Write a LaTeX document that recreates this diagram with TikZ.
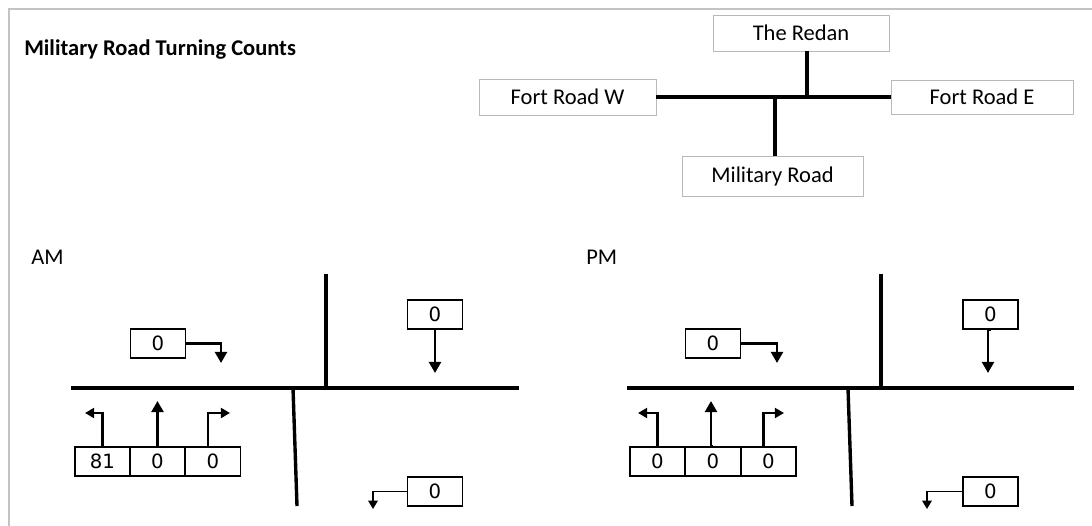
\documentclass[tikz,border=0pt]{standalone}
\usepackage{fontspec}
\setmainfont{Carlito}
\newfontfamily\numfont{DejaVu Sans}
\usetikzlibrary{arrows.meta}
\definecolor{framegray}{HTML}{C3C3C3}
\definecolor{keygray}{HTML}{B9B9B9}

\begin{document}
\begin{tikzpicture}[x=0.025cm, y=-0.025cm,
  keybox/.style={draw=keygray, line width=0.6pt, minimum width=4.4cm,
                 minimum height=0.9cm, inner sep=0pt, font=\fontsize{16}{19}\selectfont},
  cnt/.style={draw=black, line width=0.8pt, minimum width=1.375cm,
              minimum height=0.725cm, inner sep=0pt, font=\numfont\fontsize{14}{16}\selectfont},
  lbl/.style={anchor=west, inner sep=0pt, font=\fontsize{16}{19}\selectfont},
  road/.style={line width=2.8pt},
  arr/.style={-{Triangle[length=2.8mm, width=3mm]}, line width=2.1pt},
  turn/.style={-{Triangle[length=2.3mm, width=2.5mm]}, line width=1.8pt},
  thinarr/.style={-{Triangle[length=2.1mm, width=2.4mm]}, line width=1.1pt}
]
\useasboundingbox (0,0) rectangle (1092,526);
\draw[framegray, line width=1.4pt] (1092,9) -- (9,9) -- (9,526);

\node[lbl, font=\bfseries\fontsize{16}{19}\selectfont] (title) at (24,50) {Military Road Turning Counts};

% key of the junction
\node[keybox] (redan) at (801,33) {The Redan};
\node[keybox, minimum width=4.425cm] (fortW) at (567.5,97) {Fort Road W};
\node[keybox, minimum width=4.55cm, minimum height=0.85cm] (fortE) at (982,97) {Fort Road E};
\node[keybox, minimum width=4.525cm, minimum height=1.0cm] (military) at (772.5,176) {Military Road};
\coordinate (jN) at (807,97);
\coordinate (jS) at (775,97);
\draw[road] (fortW.east) -- (fortE.west);
\draw[road] (redan.south -| jN) -- (jN);
\draw[road] (jS) -- (military.north -| jS);

% AM counts
\node[lbl] (am) at (31,257) {AM};
\coordinate (amW) at (71,388);
\coordinate (amE) at (519,388);
\coordinate (amNtop) at (326,274);
\coordinate (amStop) at (293,388);
\coordinate (amSbot) at (297,506);
\draw[road] (amW) -- (amE);
\draw[road] (amNtop) -- (amNtop |- amW);
\draw[road, line width=2.4pt] (amStop) -- (amSbot);

\node[cnt] (amEB) at (158,343.5) {0};
\node[cnt] (amSB) at (435,314.5) {0};
\node[cnt] (amWB) at (435,491.5) {0};
\node[cnt] (amL) at (102.5,461.5) {81};
\node[cnt] (amT) at (157.5,461.5) {0};
\node[cnt] (amR) at (213,461.5) {0};

\coordinate (amEBtip) at (221,363);
\coordinate (amSBtip) at (435,373);
\coordinate (amWBtip) at (373,509);
\coordinate (amLtip) at (85,413);
\coordinate (amTtip) at (157.5,401);
\coordinate (amRtip) at (230,413);
\draw[arr] (amEB.east) -| (amEBtip);
\draw[arr] (amSB.south) -- (amSBtip);
\draw[thinarr] (amWB.west) -| (amWBtip);
\draw[turn] (amL.north) |- (amLtip);
\draw[arr] (amT.north) -- (amTtip);
\draw[turn] ([xshift=-0.125cm]amR.north) |- (amRtip);

% PM counts
\node[lbl] (pm) at (586,257) {PM};
\coordinate (pmW) at (627,388);
\coordinate (pmE) at (1074,388);
\coordinate (pmNtop) at (881,274);
\coordinate (pmStop) at (848,388);
\coordinate (pmSbot) at (852,506);
\draw[road] (pmW) -- (pmE);
\draw[road] (pmNtop) -- (pmNtop |- pmW);
\draw[road, line width=2.4pt] (pmStop) -- (pmSbot);

\node[cnt] (pmEB) at (713,343.5) {0};
\node[cnt] (pmSB) at (990.5,314.5) {0};
\node[cnt] (pmWB) at (990.5,491.5) {0};
\node[cnt] (pmL) at (657.5,461.5) {0};
\node[cnt] (pmT) at (713,461.5) {0};
\node[cnt] (pmR) at (768.5,461.5) {0};

\coordinate (pmEBtip) at (777,363);
\coordinate (pmSBtip) at (988,373);
\coordinate (pmWBtip) at (927,509);
\coordinate (pmLtip) at (638,413);
\coordinate (pmTtip) at (711,401);
\coordinate (pmRtip) at (784,413);
\draw[arr] (pmEB.east) -| (pmEBtip);
\draw[arr] (pmSB.south) -| (pmSBtip);
\draw[thinarr] (pmWB.west) -| (pmWBtip);
\draw[turn] (pmL.north) |- (pmLtip);
\draw[arr] (pmT.north) -| (pmTtip);
\draw[turn] ([xshift=-0.125cm]pmR.north) |- (pmRtip);
\end{tikzpicture}
\end{document}
